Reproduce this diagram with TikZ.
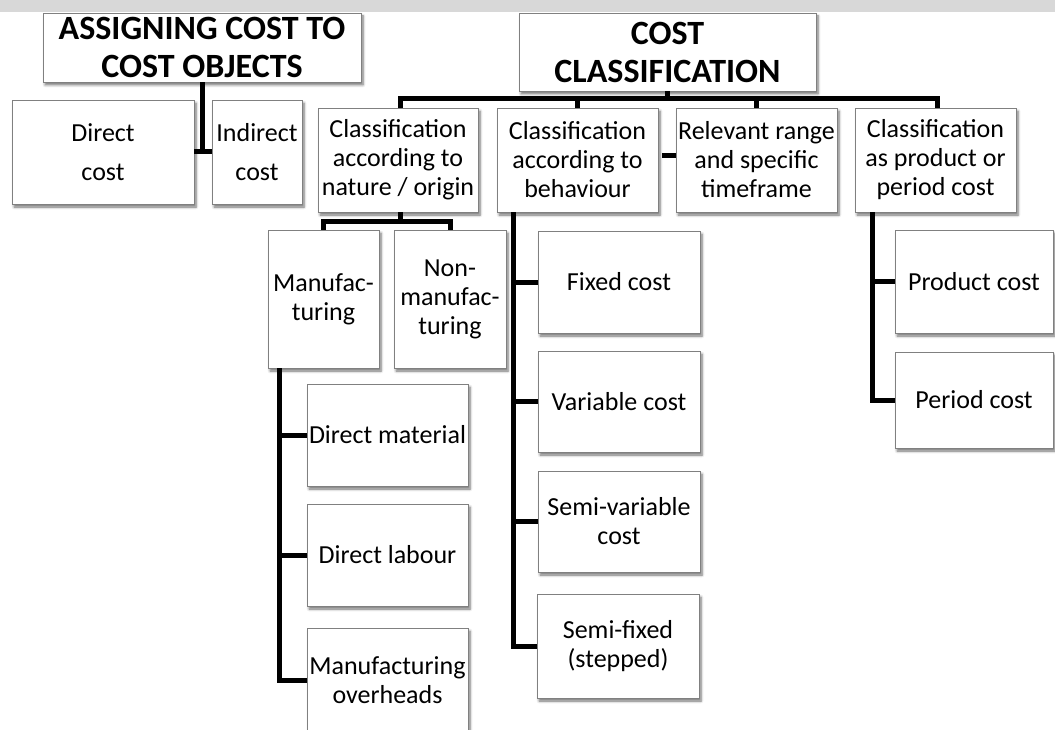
\documentclass[tikz,border=0pt]{standalone}
\usepackage{fontspec}
\setmainfont{Carlito}
\usetikzlibrary{shadows.blur,calc}
\definecolor{boxline}{HTML}{808080}
\definecolor{topgray}{HTML}{D8D8D8}
\tikzset{
  box/.style={draw=boxline, line width=0.8pt, fill=white, align=center, inner sep=0.5pt,
    font=\fontsize{26}{29}\selectfont,
    blur shadow={shadow xshift=2pt, shadow yshift=-3pt, shadow blur steps=6, shadow opacity=55, shadow blur radius=2.5pt}},
  titlebox/.style={box, font=\bfseries\fontsize{34}{38}\selectfont},
  conn/.style={line width=5pt, black, line join=miter},
}
\begin{document}
\begin{tikzpicture}[x=1pt,y=-1pt]
\useasboundingbox (0,0) rectangle (1055,730);
\clip (0,0) rectangle (1055,730);
\fill[topgray] (0,0) rectangle (1055,12);

% titles
\node[titlebox, minimum width=318pt, minimum height=69pt] (assign) at (202,47.5) {ASSIGNING COST TO\\COST OBJECTS};
\node[titlebox, minimum width=297pt, minimum height=78pt] (cc) at (667.5,52) {COST\\CLASSIFICATION};

% assigning children
\node[box, minimum width=182pt, minimum height=104pt] (direct) at (103,152) {Direct\\[10pt]cost};
\node[box, minimum width=90pt, minimum height=104pt] (indirect) at (257,152) {Indirect\\[10pt]cost};

% classification row
\node[box, minimum width=160pt, minimum height=104pt] (nature) at (398,160) {Classification\\according to\\nature / origin};
\node[box, minimum width=161pt, minimum height=104pt] (behav) at (577.5,160) {Classification\\according to\\behaviour};
\node[box, minimum width=161pt, minimum height=104pt] (relev) at (756.5,160) {Relevant range\\and specific\\timeframe};
\node[box, minimum width=161pt, minimum height=104pt] (prod) at (935.5,160) {Classification\\as product or\\period cost};

% nature children
\node[box, minimum width=111pt, minimum height=138pt] (manuf) at (323.5,299) {Manufac-\\turing};
\node[box, minimum width=112pt, minimum height=138pt] (nonman) at (450,299) {Non-\\manufac-\\turing};
\node[box, minimum width=161pt, minimum height=102pt] (dmat) at (387.5,435) {Direct material};
\node[box, minimum width=161pt, minimum height=102pt] (dlab) at (387.5,555) {Direct labour};
\node[box, minimum width=161pt, minimum height=104pt] (moh) at (387.5,680) {Manufacturing\\overheads};

% behaviour children
\node[box, minimum width=162pt, minimum height=102pt] (fixed) at (619,282) {Fixed cost};
\node[box, minimum width=162pt, minimum height=101pt] (var) at (619,401.5) {Variable cost};
\node[box, minimum width=162pt, minimum height=101pt] (semivar) at (619,521.5) {Semi-variable\\cost};
\node[box, minimum width=162pt, minimum height=104pt] (semifix) at (618,646) {Semi-fixed\\(stepped)};

% product/period children
\node[box, minimum width=158pt, minimum height=103pt] (pcost) at (974,281.5) {Product cost};
\node[box, minimum width=158pt, minimum height=96pt] (percost) at (974,400) {Period cost};

% connectors
\coordinate (busy) at (0,99);
\draw[conn] (assign.south) -- (assign.south |- direct.east);
\draw[conn] (direct.east) -- (indirect.west);

\draw[conn] ([xshift=2pt]nature.north) -- ([xshift=2pt]nature.north |- busy) -| ([xshift=1.5pt]prod.north);
\draw[conn] (cc.south) -- (cc.south |- busy);
\draw[conn] (behav.north) -- (behav.north |- busy);
\draw[conn] (relev.north) -- (relev.north |- busy);
\draw[conn] ([xshift=4pt,yshift=4pt]behav.east) -- ([yshift=4pt]relev.west);

\coordinate (nb) at (0,222);
\draw[conn] ([xshift=2pt]nature.south) -- ([xshift=2pt]nature.south |- nb);
\draw[conn] (manuf.north) -- (manuf.north |- nb) -- (nonman.north |- nb) -- (nonman.north);

\coordinate (mv) at (279,0);
\draw[conn] (mv |- manuf.south) |- (moh.west);
\draw[conn] (mv |- dmat.west) -- (dmat.west);
\draw[conn] (mv |- dlab.west) -- (dlab.west);

\coordinate (bv) at (513,0);
\draw[conn] (bv |- behav.south) |- (semifix.west);
\draw[conn] (bv |- fixed.west) -- (fixed.west);
\draw[conn] (bv |- var.west) -- (var.west);
\draw[conn] (bv |- semivar.west) -- (semivar.west);

\coordinate (pv) at (872,0);
\draw[conn] (pv |- prod.south) |- (percost.west);
\draw[conn] (pv |- pcost.west) -- (pcost.west);
\end{tikzpicture}
\end{document}
